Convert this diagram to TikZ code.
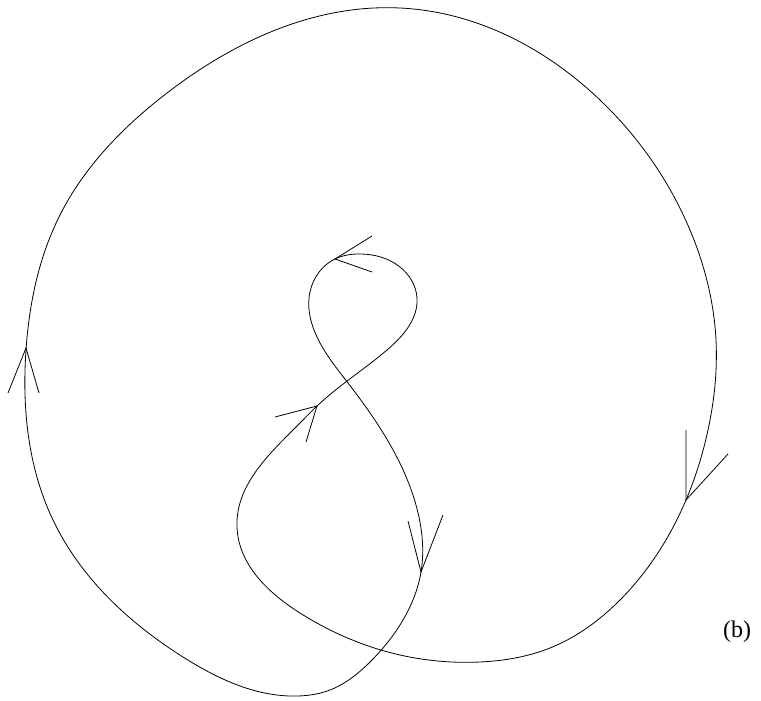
\documentclass[tikz,border=0pt]{standalone}
\usepackage{fontspec}
\setmainfont{Liberation Serif}
\usetikzlibrary{hobby}
\begin{document}
\begin{tikzpicture}[x=1pt,y=-1pt,
  curve/.style={line width=0.8pt},
  barb/.style={line width=0.8pt}]
\useasboundingbox (0,0) rectangle (761,701);
\draw[curve] (26,350) to[closed, curve through={(60,215) (167,93) (400,8) (600,100) (690,230) (716,340) (708,430) (686,500) (620,600) (550,648) (480,662) (400,655) (300,613) (237,527) (300,423) (317,406) (387,350) (417,298) (400,267) (362,254) (333,260) (309,298) (317,337) (348,383) (392,448) (416,505) (421,572) (400,625) (370,662) (330,690) (298,696) (183,657) (53,520)}] (26,350);
\coordinate (t1) at (26,348);
\coordinate (t2) at (335,259);
\coordinate (t3) at (317,406);
\coordinate (t4) at (421,572);
\coordinate (t5) at (686,500);
\draw[barb] (8,393) -- (t1) -- (39,393);
\draw[barb] (372,236) -- (t2) -- (372,272);
\draw[barb] (275,417) -- (t3) -- (306,442);
\draw[barb] (408,521) -- (t4) -- (443,515);
\draw[barb] (686,430) -- (t5) -- (728,454);
\node[font=\fontsize{24}{28}\selectfont,inner sep=0pt] (lbl) at (737,632) {(b)};
\end{tikzpicture}
\end{document}
